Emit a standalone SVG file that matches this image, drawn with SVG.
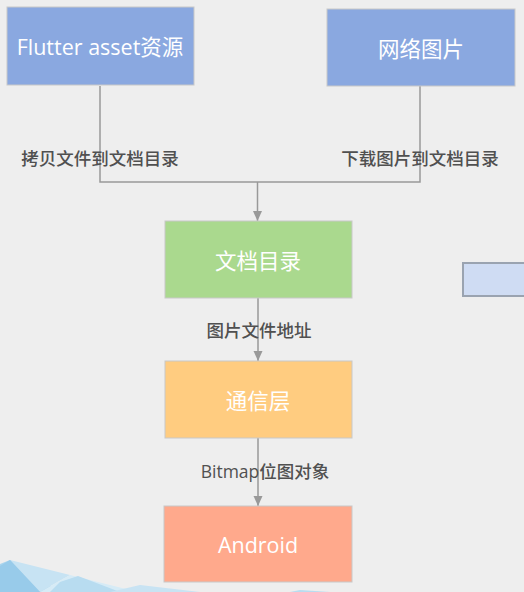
<svg xmlns="http://www.w3.org/2000/svg" width="524" height="592" viewBox="0 0 524 592">
<defs>
<style>
.box{stroke:#c8c8c8;stroke-width:1}
.nt{font-family:"Open Sans","Noto Sans CJK SC",sans-serif;font-size:21.5px;fill:#ffffff;text-anchor:middle;dominant-baseline:central}
.lb{font-family:"Open Sans","Noto Sans CJK SC",sans-serif;font-size:17.5px;font-weight:500;fill:#505050;text-anchor:middle;dominant-baseline:central}
.ln{fill:none;stroke:#999999;stroke-width:1.5}
</style>
<marker id="ah" markerWidth="10" markerHeight="10" refX="10" refY="5" orient="auto" markerUnits="userSpaceOnUse" viewBox="0 0 10 10">
<path d="M0,0.5 L10,5 L0,9.5 Z" fill="#999999"/>
</marker>
</defs>
<rect width="524" height="592" fill="#eeeeee"/>
<g id="decoration">
<polygon points="0,564 10,560 60,592 0,592" fill="#a8d4ee"/>
<polygon points="10,560 70,575 40,592" fill="#c7e3f3"/>
<polygon points="10,560 40,592 0,592 0,566" fill="#98cbea"/>
<polygon points="70,575 130,590 100,592 40,592" fill="#d6ebf6"/>
<polygon points="60,582 78,576 120,592 50,592" fill="#b8dcf0"/>
<polygon points="140,585 200,592 110,592" fill="#c8e3f3"/>
<polygon points="300,590 330,592 290,592" fill="#b8dcf0"/>
</g>
<g id="connectors">
<path class="ln" d="M100,86 V182 H420 V86"/>
<line class="ln" x1="257.5" y1="182" x2="257.5" y2="221" marker-end="url(#ah)"/>
<line class="ln" x1="258" y1="298" x2="258" y2="361" marker-end="url(#ah)"/>
<line class="ln" x1="258" y1="438" x2="258" y2="506" marker-end="url(#ah)"/>
<text class="lb" x="100" y="158">拷贝文件到文档目录</text>
<text class="lb" x="420" y="158">下载图片到文档目录</text>
<text class="lb" x="259" y="330">图片文件地址</text>
<text class="lb" x="265" y="471">Bitmap位图对象</text>
</g>
<g id="flutter-asset">
<rect class="box" x="7" y="7" width="187" height="78" fill="#8aa8e0"/>
<text class="nt" x="100" y="46">Flutter asset资源</text>
</g>
<g id="network-image">
<rect class="box" x="327" y="9" width="188" height="77" fill="#8aa8e0"/>
<text class="nt" x="421" y="48">网络图片</text>
</g>
<g id="doc-dir">
<rect class="box" x="165" y="221" width="187" height="77" fill="#aad98e"/>
<text class="nt" x="258" y="260">文档目录</text>
</g>
<g id="side-box">
<rect x="463" y="263" width="64" height="33" fill="#cfdcf3" stroke="#9aa3b0" stroke-width="2"/>
</g>
<g id="comm-layer">
<rect class="box" x="165" y="361" width="187" height="77" fill="#ffcc80"/>
<text class="nt" x="258" y="400">通信层</text>
</g>
<g id="android">
<rect class="box" x="164" y="506" width="188" height="76" fill="#ffa98c"/>
<text class="nt" x="258" y="544">Android</text>
</g>
</svg>
